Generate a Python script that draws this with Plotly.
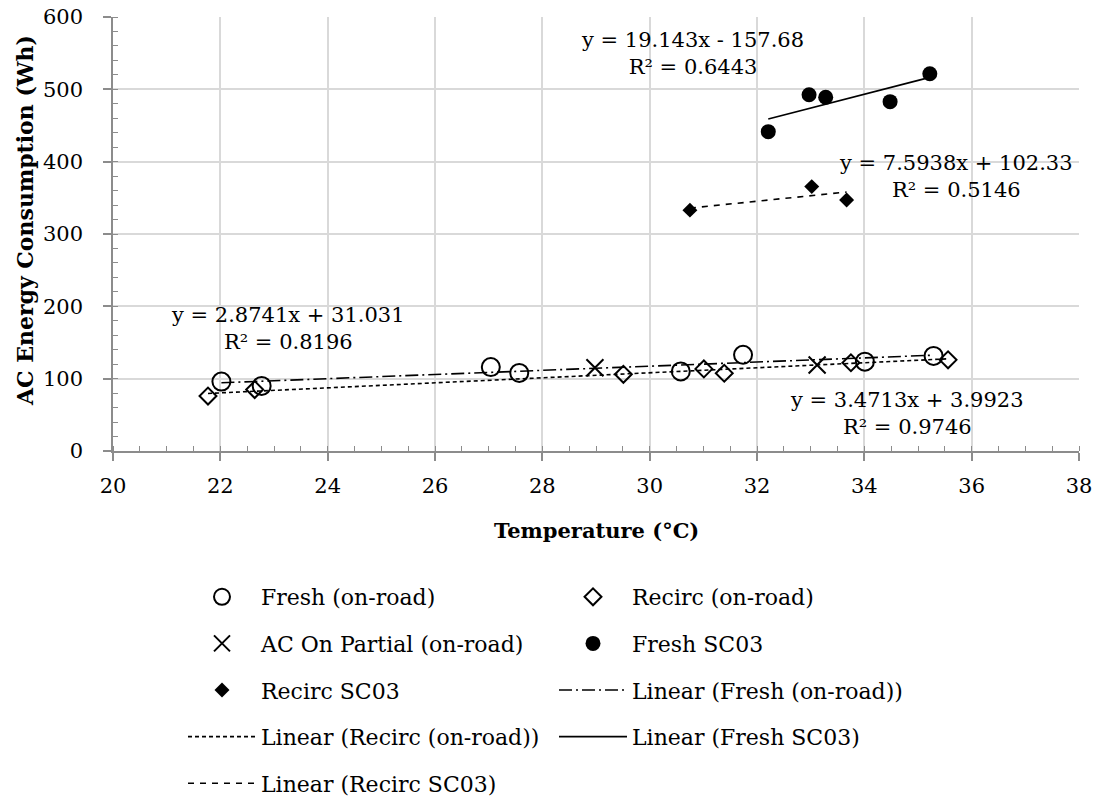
import plotly.graph_objects as go

# ---------------- data ----------------
fresh_road_x = [22.02, 22.77, 27.04, 27.57, 30.58, 31.74, 34.01, 35.29]
fresh_road_y = [96, 90, 116, 108, 110, 133, 123.5, 131.5]

recirc_road_x = [21.77, 22.64, 29.51, 31.01, 31.39, 33.75, 35.56]
recirc_road_y = [76, 85, 106, 113.5, 107.5, 122, 126]

partial_road_x = [28.98, 33.12]
partial_road_y = [115, 119]

fresh_sc03_x = [32.21, 32.97, 33.28, 34.48, 35.22]
fresh_sc03_y = [441.5, 492.5, 489, 483, 521.5]

recirc_sc03_x = [30.75, 33.02, 33.67]
recirc_sc03_y = [333, 365.5, 347]

# linear trend lines: order = Fresh (on-road), Recirc (on-road), Fresh SC03, Recirc SC03
trend_slope = [2.8741, 3.4713, 19.143, 7.5938]
trend_intercept = [31.031, 3.9923, -157.68, 102.33]
trend_r2 = [0.8196, 0.9746, 0.6443, 0.5146]

x_ticks = list(range(20, 39, 2))
y_ticks = list(range(0, 601, 100))

FONT = "DejaVu Serif"
BLACK = "#000000"
GRID = "#d9d9d9"
AXIS = "#8c8c8c"

fig = go.Figure()


def add_points(x, y, name, symbol, size, legend, lw):
    fig.add_trace(go.Scatter(
        x=x, y=y, mode="markers", name=name, legend=legend, legendgroup=name,
        marker=dict(symbol=symbol, size=size, color=BLACK,
                    line=dict(color=BLACK, width=lw)),
        hoverinfo="x+y+name"))


def add_trend(x, slope, intercept, name, dash, legend):
    xs = [min(x), max(x)]
    ys = [slope * v + intercept for v in xs]
    fig.add_trace(go.Scatter(
        x=xs, y=ys, mode="lines", name=name, legend=legend, legendgroup=name,
        line=dict(color=BLACK, width=1.6, dash=dash)))


add_points(fresh_road_x, fresh_road_y, "Fresh (on-road)", "circle-open", 18, "legend", 2)
add_points(recirc_road_x, recirc_road_y, "Recirc (on-road)", "diamond-open", 13, "legend2", 2)
add_points(partial_road_x, partial_road_y, "AC On Partial (on-road)", "x-thin-open", 17, "legend", 2)
add_points(fresh_sc03_x, fresh_sc03_y, "Fresh SC03", "circle", 15, "legend2", 0)
add_points(recirc_sc03_x, recirc_sc03_y, "Recirc SC03", "diamond", 11.5, "legend", 0)

add_trend(fresh_road_x, trend_slope[0], trend_intercept[0], "Linear (Fresh (on-road))", "13px,4px,2px,4px", "legend2")
add_trend(recirc_road_x, trend_slope[1], trend_intercept[1], "Linear (Recirc (on-road))", "4px,3px", "legend")
add_trend(fresh_sc03_x, trend_slope[2], trend_intercept[2], "Linear (Fresh SC03)", "solid", "legend2")
add_trend(recirc_sc03_x, trend_slope[3], trend_intercept[3], "Linear (Recirc SC03)", "6px,6px", "legend")


def eq_text(i):
    sign = "+" if trend_intercept[i] >= 0 else "-"
    return "y = %gx %s %g<br>R² = %g" % (trend_slope[i], sign, abs(trend_intercept[i]), trend_r2[i])


# label positions (data coords) : Fresh road, Recirc road, Fresh SC03, Recirc SC03
label_pos = [(23.27, 170), (34.79, 52.5), (30.79, 549), (35.70, 379)]
for i, (lx, ly) in enumerate(label_pos):
    fig.add_annotation(x=lx, y=ly, xref="x", yref="y", text=eq_text(i), showarrow=False,
                       align="center", xanchor="center", yanchor="middle",
                       font=dict(family=FONT, size=21, color=BLACK))

# axis titles
fig.add_annotation(x=0.5, y=-0.184, xref="paper", yref="paper", text="Temperature (°C)",
                   showarrow=False, xanchor="center", yanchor="middle",
                   font=dict(family=FONT, size=21, color=BLACK, weight="bold"))
fig.add_annotation(x=-0.091, y=0.53, xref="paper", yref="paper", text="AC Energy Consumption (Wh)",
                   showarrow=False, xanchor="center", yanchor="middle", textangle=-90,
                   font=dict(family=FONT, size=22, color=BLACK, weight="bold"))

axis_common = dict(
    showline=True, linecolor=AXIS, linewidth=1.5,
    showgrid=True, gridcolor=GRID, gridwidth=1.5,
    zeroline=False, ticks="outside", ticklen=8, tickwidth=1.5, tickcolor=AXIS,
    tickfont=dict(family=FONT, size=21, color=BLACK), automargin=False,
)

fig.update_xaxes(range=[20, 38], tickvals=x_ticks, ticktext=[str(v) for v in x_ticks],
                 ticklabelstandoff=7,
                 minor=dict(dtick=0.5, ticks="inside", ticklen=5, tickwidth=1.2, tickcolor=AXIS, showgrid=False),
                 **axis_common)
fig.update_yaxes(range=[0, 600], tickvals=y_ticks, ticktext=[str(v) for v in y_ticks],
                 ticklabelstandoff=16,
                 minor=dict(dtick=20, ticks="inside", ticklen=5, tickwidth=1.2, tickcolor=AXIS, showgrid=False),
                 **axis_common)

legend_common = dict(
    orientation="v", xref="container", yref="container", xanchor="left", yanchor="top",
    font=dict(family=FONT, size=22, color=BLACK), bgcolor="rgba(0,0,0,0)",
    itemwidth=68, tracegroupgap=15, traceorder="grouped", itemclick=False, itemdoubleclick=False,
)

fig.update_layout(
    width=1100, height=800,
    margin=dict(l=113, r=21, t=17, b=349, autoexpand=False),
    paper_bgcolor="white", plot_bgcolor="white",
    showlegend=True,
    legend=dict(x=183 / 1100, y=1 - 576 / 800, **legend_common),
    legend2=dict(x=554 / 1100, y=1 - 576 / 800, **legend_common),
    font=dict(family=FONT, color=BLACK),
)

fig.write_html("out.html")
